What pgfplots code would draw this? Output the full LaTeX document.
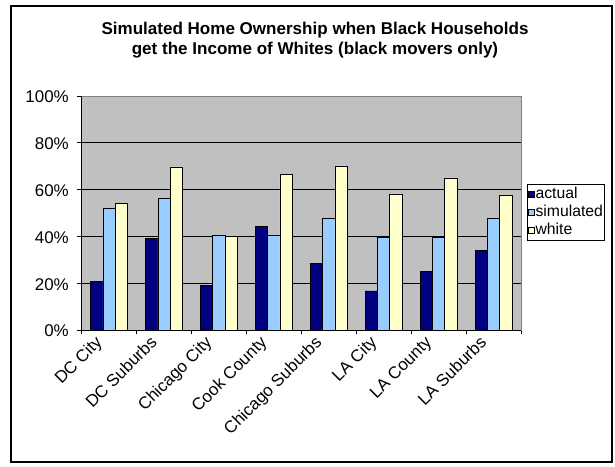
\documentclass[border=0pt]{standalone}
\usepackage{pgfplots}
\usepackage{pgfplotstable}
\pgfplotsset{compat=1.18}
\usepackage{fontspec}
\setmainfont{Liberation Sans}
\definecolor{actual}{HTML}{000080}
\definecolor{sim}{HTML}{99CCFF}
\definecolor{wht}{HTML}{FFFFCC}
\definecolor{plotgray}{HTML}{C0C0C0}
\definecolor{bordergray}{HTML}{808080}

\pgfplotstableread{
x actual simulated white
0 20.6 52.1 54.0
1 39.0 56.3 69.7
2 18.9 40.4 39.9
3 44.1 40.3 66.6
4 28.6 47.6 70.1
5 16.7 39.7 58.1
6 24.9 39.7 65.0
7 34.1 47.6 57.7
}\datatable

\begin{document}
\begin{tikzpicture}[x=1bp,y=1bp]
\useasboundingbox (0,0) rectangle (615,467);
\draw[line width=1.5bp] (11,5) rectangle (612,461);
\node[font=\fontsize{17.1}{20.5}\selectfont\bfseries, align=center, anchor=base] at (315,412.5) {Simulated Home Ownership when Black Households\\get the Income of Whites (black movers only)};
\begin{axis}[
  at={(81.5bp,137bp)}, anchor=south west, scale only axis,
  width=439.5bp, height=234bp,
  xmin=-0.5, xmax=7.5, ymin=0, ymax=100,
  ybar=0pt, bar width=12.2bp,
  axis background/.style={fill=plotgray},
  axis line style={draw=bordergray, line width=0.8bp},
  tick align=outside, tick pos=left,
  major tick length=4.5bp, minor tick length=4.5bp,
  ytick={0,20,40,60,80,100},
  yticklabels={0\%,20\%,40\%,60\%,80\%,100\%},
  xtick={0,...,7},
  xticklabels={DC City,DC Suburbs,Chicago City,Cook County,Chicago Suburbs,LA City,LA County,LA Suburbs},
  minor xtick={-0.5,0.5,...,7.5},
  major x tick style={draw=none},
  minor x tick style={draw=black, line width=0.8bp},
  major y tick style={draw=black, line width=0.8bp},
  ymajorgrids, major y grid style={draw=black, line width=0.75bp},
  ticklabel style={font=\fontsize{17}{20}\selectfont},
  xticklabel style={xshift=-6bp, yshift=-9bp, rotate=45, anchor=base east, inner sep=0pt},
  yticklabel style={inner sep=0pt, xshift=-8bp, yshift=-1bp},
  every axis plot/.append style={draw=black, line width=0.6bp},
  legend style={at={(axis description cs:1.0137,0.624)}, anchor=north west,
    draw=black, line width=0.75bp, font=\fontsize{15.8}{19}\selectfont,
    inner xsep=1bp, inner ysep=1bp, row sep=0pt,
    nodes={inner xsep=0.6bp, inner ysep=1.5bp, text height=11.5bp, text depth=3.5bp}},
  legend cell align=left,
  legend image code/.code={\draw[#1, line width=0.6bp] (0bp,-3bp) rectangle (6bp,3bp);},
  after end axis/.code={\draw[black, line width=0.9bp] (rel axis cs:0,1) -- (rel axis cs:0,0) -- (rel axis cs:1,0);},
]
\addplot[fill=actual] table[x=x, y=actual] {\datatable};
\addplot[fill=sim] table[x=x, y=simulated] {\datatable};
\addplot[fill=wht] table[x=x, y=white] {\datatable};
\legend{actual,simulated,white}
\end{axis}
\end{tikzpicture}
\end{document}
